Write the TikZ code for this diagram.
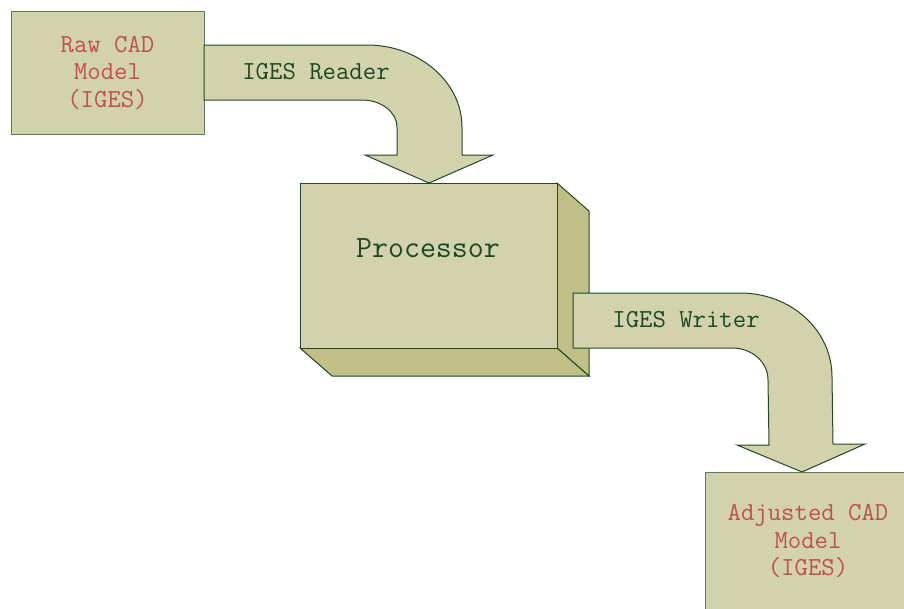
\documentclass[tikz,border=0pt]{standalone}
\usepackage{fontspec}
\definecolor{facefill}{RGB}{210,211,172}
\definecolor{sidefill}{RGB}{191,191,134}
\definecolor{edgegreen}{RGB}{34,72,38}
\definecolor{boxedge}{RGB}{92,124,92}
\definecolor{labelgreen}{RGB}{30,72,36}
\definecolor{filered}{RGB}{192,80,77}
\tikzset{
  filebox/.style={draw=boxedge, line width=1pt, fill=facefill},
  blockarrow/.style={draw=edgegreen, line width=1pt, fill=facefill, line join=miter},
  solid3d/.style={draw=edgegreen, line width=1pt, line join=miter},
  filetext/.style={text=filered, font=\ttfamily\fontsize{26}{27.5}\selectfont, align=center},
  arrowtext/.style={text=labelgreen, font=\ttfamily\fontsize{26}{28}\selectfont},
  proctext/.style={text=labelgreen, font=\ttfamily\fontsize{31}{32}\selectfont}
}
\begin{document}
\begin{tikzpicture}[x=1pt,y=-1pt]
\useasboundingbox (0,0) rectangle (904,608);
\clip (0,0) rectangle (904,608);

% input file
\draw[filebox] (11,11) rectangle (204,134);
\node[filetext] (raw) at (107.5,72.5) {Raw CAD\\Model\\(IGES)};

% reader block arrow
\draw[blockarrow] (204,45) -- (367,45)
  .. controls (419,45) and (462,82) .. (462,127)
  -- (462,155) -- (493,155) -- (429,183) -- (365,155) -- (397,155) -- (397,127)
  .. controls (397,112) and (381,100) .. (362,100)
  -- (204,100) -- cycle;
\node[arrowtext] (reader) at (316,72) {IGES Reader};

% processor block
\draw[solid3d, fill=sidefill] (557,183) -- (589,211) -- (589,376) -- (557,348) -- cycle;
\draw[solid3d, fill=sidefill] (300,348) -- (332,376) -- (589,376) -- (557,348) -- cycle;
\draw[solid3d, fill=facefill] (300,183) rectangle (557,348);
\node[proctext] (proc) at (428,248) {Processor};

% writer block arrow
\draw[blockarrow] (573,293) -- (740,293)
  .. controls (791,293) and (832,330) .. (832,377)
  -- (833,444) -- (865,444) -- (802,472) -- (737,445) -- (769,445) -- (768,380)
  .. controls (768,362) and (752,348) .. (732,348)
  -- (573,348) -- cycle;
\node[arrowtext] (writer) at (686,320) {IGES Writer};

% output file
\draw[filebox] (705,472) rectangle (920,630);
\node[filetext] (adj) at (808,541) {Adjusted CAD\\Model\\(IGES)};
\end{tikzpicture}
\end{document}
